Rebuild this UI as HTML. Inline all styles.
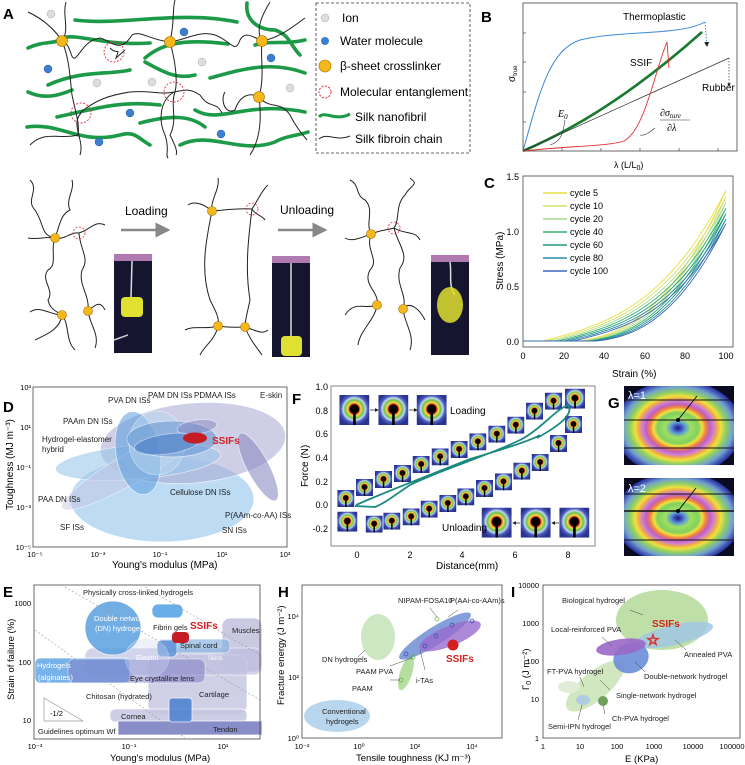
<!DOCTYPE html>
<html><head><meta charset="utf-8"><style>
html,body{margin:0;padding:0;background:#fff;}
svg{display:block;font-family:"Liberation Sans",sans-serif;}
</style></head><body>
<svg id="s" width="745" height="765" viewBox="0 0 745 765" xmlns="http://www.w3.org/2000/svg">
<defs>
<radialGradient id="thg" cx="50%" cy="47%" r="55%">
<stop offset="0" stop-color="#000"/><stop offset="0.25" stop-color="#200"/><stop offset="0.3" stop-color="#e02020"/><stop offset="0.4" stop-color="#f0e040"/><stop offset="0.55" stop-color="#70c050"/><stop offset="0.68" stop-color="#c0d8f0"/><stop offset="0.8" stop-color="#5060c0"/><stop offset="1" stop-color="#2a3490"/>
</radialGradient>
<symbol id="th" viewBox="0 0 30 30"><rect width="30" height="30" fill="url(#thg)"/><circle cx="15" cy="14" r="4.5" fill="#000"/><rect x="13.8" y="14" width="2.6" height="16" fill="#000"/></symbol>
<radialGradient id="gg" cx="50%" cy="50%" r="50%">
<stop offset="0" stop-color="#1a1a80"/><stop offset="0.06" stop-color="#4050c0"/><stop offset="0.12" stop-color="#60a0d0"/><stop offset="0.2" stop-color="#a0e060"/><stop offset="0.32" stop-color="#80d060"/><stop offset="0.38" stop-color="#f0e040"/><stop offset="0.44" stop-color="#f08040"/><stop offset="0.5" stop-color="#c060c0"/><stop offset="0.56" stop-color="#d080d0"/><stop offset="0.62" stop-color="#f0b040"/><stop offset="0.67" stop-color="#f0e040"/><stop offset="0.75" stop-color="#90d060"/><stop offset="0.86" stop-color="#70a0d0"/><stop offset="0.95" stop-color="#4050b0"/><stop offset="1" stop-color="#2030a0"/>
</radialGradient>
<marker id="ah" markerWidth="6" markerHeight="6" refX="5" refY="3" orient="auto"><path d="M0,0L6,3L0,6z" fill="#888"/></marker>
<marker id="ahk" markerWidth="5" markerHeight="5" refX="4" refY="2.5" orient="auto"><path d="M0,0L5,2.5L0,5z" fill="#222"/></marker>
</defs>

<text x="3" y="19" font-size="15" font-weight="bold">A</text>
<g fill="none" stroke="#1d9a48" stroke-width="3.6" stroke-linecap="round">
<path d="M75,20 C120,26 180,10 237,22"/>
<path d="M28,48 C45,40 55,45 62,38 C80,33 100,46 150,43"/>
<path d="M145,58 C160,45 180,38 228,44"/>
<path d="M247,3 C245,20 258,30 275,30 C290,35 290,45 300,55"/>
<path d="M255,45 C270,40 285,45 305,40"/>
<path d="M48,85 C80,70 110,75 130,70"/>
<path d="M145,62 C160,70 175,80 195,75"/>
<path d="M210,78 C240,70 270,60 305,73"/>
<path d="M28,92 C45,100 60,95 72,90"/>
<path d="M57,117 C90,110 120,100 160,105"/>
<path d="M140,123 C170,115 190,115 205,127"/>
<path d="M195,110 C220,125 245,100 305,112"/>
<path d="M27,127 C60,122 80,145 120,135 C135,130 140,140 150,145"/>
<path d="M180,145 C210,130 240,155 275,142 C285,136 300,135 308,132"/>
</g>
<g fill="none" stroke="#222" stroke-width="1">
<path d="M28,12 C45,20 55,30 62,41 C70,30 62,15 66,2"/>
<path d="M62,41 C72,45 70,60 75,58 C80,55 85,40 100,38 C110,40 120,55 132,35 C140,30 150,40 170,42"/>
<path d="M62,41 C70,60 70,80 72,95 C75,110 80,125 78,135 C60,140 45,130 30,145"/>
<path d="M170,42 C175,20 172,10 175,0"/>
<path d="M170,42 C175,60 178,80 175,92 C170,105 178,120 170,135 C175,145 178,152 176,155"/>
<path d="M170,42 C185,40 200,30 215,35 C230,40 235,55 240,40 C245,30 255,38 262,41"/>
<path d="M262,41 C255,30 262,15 270,2"/>
<path d="M262,41 C280,38 295,25 305,18"/>
<path d="M262,41 C260,60 265,75 259,97 C250,92 240,95 235,110 C225,115 220,100 225,92"/>
<path d="M259,97 C270,110 280,100 290,115 C295,125 300,132 307,140"/>
<path d="M259,97 C262,120 260,140 250,155"/>
<path d="M80,113 C95,100 110,95 130,92 C150,90 160,95 174,92 C185,90 190,88 200,95 C210,110 215,100 222,113"/>
<path d="M174,92 C160,100 158,120 165,135 C170,150 165,155 168,158"/>
<path d="M81,113 C70,125 85,140 80,155"/>
<path d="M110,48 C118,56 120,46 116,58 L125,50"/>
</g>
<g fill="#f5b719" stroke="#a07000" stroke-width="0.6">
<circle cx="62" cy="41" r="5.5"/><circle cx="170" cy="42" r="5.5"/><circle cx="262" cy="41" r="5.5"/><circle cx="259" cy="97" r="5.5"/>
</g>
<g fill="none" stroke="#e03040" stroke-width="0.9" stroke-dasharray="2,1.5">
<circle cx="114" cy="52" r="10"/><circle cx="81" cy="113" r="10"/><circle cx="174" cy="92" r="10"/>
</g>
<g fill="#3a7fd0" stroke="#1a4f90" stroke-width="0.4">
<circle cx="48" cy="69" r="4"/><circle cx="184" cy="32" r="4"/><circle cx="130" cy="113" r="4"/><circle cx="99" cy="142" r="4"/><circle cx="271" cy="58" r="4"/><circle cx="221" cy="134" r="4"/>
</g>
<g fill="#ddd" stroke="#aaa" stroke-width="0.5">
<circle cx="51" cy="14" r="4"/><circle cx="97" cy="83" r="4"/><circle cx="202" cy="62" r="4"/><circle cx="152" cy="82" r="4"/><circle cx="290" cy="88" r="4"/>
</g>
<rect x="316" y="3" width="154" height="150" fill="none" stroke="#333" stroke-width="0.8" stroke-dasharray="3,2"/>
<g font-size="12">
<circle cx="325" cy="18" r="4" fill="#ddd" stroke="#aaa" stroke-width="0.5"/><text x="342" y="22">Ion</text>
<circle cx="325" cy="41" r="4" fill="#3a7fd0"/><text x="340" y="45">Water molecule</text>
<circle cx="325" cy="66" r="6" fill="#f5b719" stroke="#a07000" stroke-width="0.6"/><text x="340" y="70">β-sheet crosslinker</text>
<circle cx="325" cy="92" r="6" fill="none" stroke="#e03040" stroke-dasharray="2,1.5"/><text x="340" y="96">Molecular entanglement</text>
<path d="M319,117 C325,110 335,122 350,114" stroke="#1d9a48" stroke-width="3" fill="none"/><text x="355" y="121">Silk nanofibril</text>
<path d="M319,139 C328,132 335,142 350,136" stroke="#222" stroke-width="1" fill="none"/><text x="355" y="143">Silk fibroin chain</text>
</g>

<g fill="none" stroke="#222" stroke-width="1">
<path d="M30,180 C40,190 25,200 35,210 C45,225 40,235 55,238 C60,225 60,215 70,210 C65,200 75,190 72,180"/>
<path d="M28,238 C40,240 45,236 55,238 C65,240 70,232 79,233 C90,230 95,220 105,225"/>
<path d="M55,238 C50,250 58,265 48,270 C40,280 55,290 48,300 C50,310 58,312 62,315"/>
<path d="M79,233 C80,250 90,258 82,270 C78,285 90,295 88,311"/>
<path d="M62,315 C50,315 40,305 30,312 M62,315 C60,330 45,335 35,340 M62,315 C70,325 65,340 75,350"/>
<path d="M88,311 C95,305 100,300 105,310 M88,311 C90,325 100,335 95,348"/>
<path d="M212,211 C205,205 195,200 188,205 M212,211 C210,200 220,190 218,178"/>
<path d="M212,211 C225,210 240,208 252,209 C258,200 262,190 268,185"/>
<path d="M252,209 C255,215 262,215 265,220"/>
<path d="M212,211 C206,240 200,270 210,300 C215,310 220,318 218,326"/>
<path d="M252,209 C248,240 245,270 250,300 C248,310 245,320 245,327"/>
<path d="M218,326 C230,328 238,327 245,327 M218,326 C205,330 195,325 185,330 M218,326 C215,340 205,345 200,355 M245,327 C255,330 262,335 268,330 M245,327 C250,340 255,345 262,355"/>
<path d="M350,180 C360,185 355,195 365,200 C375,210 365,222 371,234 M371,234 C360,238 352,242 345,238"/>
<path d="M371,234 C380,230 388,230 394,228 C400,220 395,205 405,195 C410,185 420,185 410,178"/>
<path d="M394,228 C405,235 415,230 420,240"/>
<path d="M371,234 C365,250 380,260 370,270 C362,285 380,292 377,305"/>
<path d="M394,228 C398,245 410,255 400,268 C395,285 408,295 403,309"/>
<path d="M377,305 C365,310 355,300 345,315 M377,305 C375,320 360,330 358,345 M403,309 C410,300 420,310 425,320 M403,309 C405,325 415,335 410,350"/>
</g>
<g fill="#f5b719" stroke="#a07000" stroke-width="0.6">
<circle cx="55" cy="238" r="4.5"/><circle cx="62" cy="315" r="4.5"/><circle cx="88" cy="311" r="4.5"/>
<circle cx="212" cy="211" r="4.5"/><circle cx="218" cy="326" r="4.5"/><circle cx="245" cy="327" r="4.5"/>
<circle cx="371" cy="234" r="4.5"/><circle cx="377" cy="305" r="4.5"/><circle cx="403" cy="309" r="4.5"/>
</g>
<g fill="none" stroke="#e03040" stroke-width="0.8" stroke-dasharray="2,1.5">
<circle cx="79" cy="233" r="6"/><circle cx="252" cy="209" r="6"/><circle cx="394" cy="228" r="6"/>
</g>
<line x1="121" y1="230" x2="168" y2="230" stroke="#888" stroke-width="2.5" marker-end="url(#ah)"/>
<line x1="278" y1="230" x2="325" y2="230" stroke="#888" stroke-width="2.5" marker-end="url(#ah)"/>
<text x="125" y="215" font-size="12">Loading</text>
<text x="280" y="214" font-size="12">Unloading</text>
<rect x="114" y="254" width="38" height="99" fill="#151530"/><rect x="114" y="254" width="38" height="7" fill="#b07ab0"/>
<line x1="132" y1="261" x2="131" y2="298" stroke="#ddd" stroke-width="1.5"/><rect x="121" y="297" width="22" height="20" rx="4" fill="#e0e030"/>
<line x1="114" y1="340" x2="128" y2="335" stroke="#ccc" stroke-width="1.5"/>
<rect x="272" y="256" width="38" height="101" fill="#151530"/><rect x="272" y="256" width="38" height="7" fill="#b07ab0"/>
<line x1="291" y1="263" x2="291" y2="338" stroke="#ddd" stroke-width="1.5"/><rect x="281" y="336" width="21" height="20" rx="4" fill="#e0e030"/>
<rect x="431" y="255" width="38" height="100" fill="#151530"/><rect x="431" y="255" width="38" height="7" fill="#b07ab0"/>
<path d="M450,262 C452,275 448,285 455,295" stroke="#ddd" stroke-width="1.5" fill="none"/><ellipse cx="450" cy="305" rx="13" ry="18" fill="#e0e030" opacity="0.85"/>

<text x="481" y="22" font-size="15" font-weight="bold">B</text>
<rect x="523" y="3" width="214" height="148" fill="none" stroke="#444" stroke-width="0.8"/>
<g stroke="#444" stroke-width="0.7">
<line x1="562" y1="151" x2="562" y2="148"/><line x1="601" y1="151" x2="601" y2="148"/><line x1="640" y1="151" x2="640" y2="148"/><line x1="679" y1="151" x2="679" y2="148"/><line x1="718" y1="151" x2="718" y2="148"/>
<line x1="523" y1="122" x2="526" y2="122"/><line x1="523" y1="92" x2="526" y2="92"/><line x1="523" y1="62" x2="526" y2="62"/><line x1="523" y1="33" x2="526" y2="33"/>
</g>
<path d="M523,151 C540,90 550,50 580,40 C620,30 680,36 705,22" fill="none" stroke="#3a8ad8" stroke-width="1"/>
<path d="M705,22 L707,46" stroke="#3a8ad8" stroke-width="1" stroke-dasharray="1.5,1.5" marker-end="url(#ahk)"/>
<path d="M523,151 C560,135 620,105 702,32" fill="none" stroke="#1a7a30" stroke-width="2.6"/>
<path d="M523,151 L729,58" fill="none" stroke="#333" stroke-width="0.7"/>
<path d="M729,58 L729,86" stroke="#333" stroke-width="0.7" stroke-dasharray="1.5,1.5" marker-end="url(#ahk)"/>
<path d="M523,151 C570,146 610,146 624,141 C645,130 655,70 667,42 L669,68" fill="none" stroke="#e03030" stroke-width="0.9"/>
<text x="623" y="20" font-size="10">Thermoplastic</text>
<text x="630" y="66" font-size="10">SSIF</text>
<text x="702" y="91" font-size="10">Rubber</text>
<text x="558" y="117" font-size="10" font-style="italic" font-family="Liberation Serif">E<tspan font-size="7" dy="2">0</tspan></text>
<path d="M565,120 C563,135 560,142 550,145" fill="none" stroke="#333" stroke-width="0.6"/>
<text x="660" y="116" font-size="10" font-style="italic" font-family="Liberation Serif">∂σ<tspan font-size="7" dy="2">ture</tspan></text>
<line x1="660" y1="120" x2="690" y2="120" stroke="#333" stroke-width="0.6"/>
<text x="667" y="131" font-size="10" font-style="italic" font-family="Liberation Serif">∂λ</text>
<path d="M655,128 C650,132 645,136 640,135" fill="none" stroke="#333" stroke-width="0.6"/>
<text x="614" y="168" font-size="9">λ (L/L<tspan font-size="7" dy="2">0</tspan><tspan dy="-2">)</tspan></text>
<text transform="translate(515,82) rotate(-90)" font-size="10">σ<tspan font-size="6" dy="2">true</tspan></text>

<text x="484" y="188" font-size="15" font-weight="bold">C</text>
<rect x="523" y="176" width="210" height="171" fill="none" stroke="#444" stroke-width="0.8"/>
<g id="cc" fill="none" stroke-width="0.9"></g>
<g font-size="9" text-anchor="end">
<text x="519" y="345">0.0</text><text x="519" y="290">0.5</text><text x="519" y="235">1.0</text><text x="519" y="180">1.5</text>
</g>
<g font-size="9" text-anchor="middle">
<text x="523" y="359">0</text><text x="564" y="359">20</text><text x="604" y="359">40</text><text x="645" y="359">60</text><text x="685" y="359">80</text><text x="726" y="359">100</text>
</g>
<text x="612" y="377" font-size="10">Strain (%)</text>
<text transform="translate(503,290) rotate(-90)" font-size="10">Stress (MPa)</text>
<g id="cleg" font-size="9"></g>

<text x="3" y="412" font-size="15" font-weight="bold">D</text>
<g stroke="#fff" stroke-width="0.8">
<ellipse cx="162" cy="499" rx="92" ry="43" fill="#a8d0f0" opacity="0.75"/>
<ellipse cx="193" cy="443" rx="93" ry="40" fill="#aeaed6" opacity="0.6" transform="rotate(-5 193 443)"/>
<ellipse cx="138" cy="462" rx="83" ry="17" fill="#9cc8ec" opacity="0.6" transform="rotate(-5 138 462)"/>
<ellipse cx="133" cy="467" rx="82" ry="15" fill="#c8c8e4" opacity="0.5" transform="rotate(-30 133 467)"/>
<ellipse cx="138" cy="453" rx="22" ry="42" fill="#5a9ede" opacity="0.55" transform="rotate(-10 138 453)"/>
<ellipse cx="157" cy="443" rx="28" ry="32" fill="#b8d8f0" opacity="0.5"/>
<ellipse cx="172" cy="439" rx="45" ry="18" fill="#5a8ed0" opacity="0.5"/>
<ellipse cx="197" cy="427" rx="20" ry="7" fill="#8888c0" opacity="0.5" transform="rotate(-8 197 427)"/>
<ellipse cx="167" cy="444" rx="33" ry="10" fill="#3a70c0" opacity="0.45" transform="rotate(-8 167 444)"/>
<ellipse cx="258" cy="467" rx="11" ry="38" fill="#8c8cc4" opacity="0.6" transform="rotate(-28 258 467)"/>
</g>
<ellipse cx="195" cy="438" rx="12" ry="5.5" fill="#c41e24"/>
<rect x="33" y="387" width="254" height="160" fill="none" stroke="#444" stroke-width="0.8"/>
<g font-size="8" fill="#222">
<text x="212" y="444" fill="#d42020" font-size="10" font-weight="bold">SSIFs</text>
<text x="108" y="403">PVA DN ISs</text><text x="148" y="398">PAM DN ISs</text><text x="194" y="398">PDMAA ISs</text><text x="260" y="398">E-skin</text>
<text x="63" y="424">PAAm DN ISs</text><text x="42" y="442">Hydrogel-elastomer</text><text x="42" y="452">hybrid</text>
<text x="38" y="502">PAA DN ISs</text><text x="170" y="495">Cellulose DN ISs</text><text x="60" y="530">SF ISs</text>
<text x="225" y="518">P(AAm-co-AA) ISs</text><text x="222" y="533">SN ISs</text>
</g>
<g font-size="7.5" text-anchor="middle">
<text x="35" y="557">10⁻⁵</text><text x="98" y="557">10⁻³</text><text x="160" y="557">10⁻¹</text><text x="222" y="557">10¹</text><text x="285" y="557">10³</text>
</g>
<g font-size="7.5" text-anchor="end">
<text x="31" y="390">10³</text><text x="31" y="430">10¹</text><text x="31" y="470">10⁻¹</text><text x="31" y="510">10⁻³</text><text x="31" y="550">10⁻⁵</text>
</g>
<text x="112" y="568" font-size="10">Young's modulus (MPa)</text>
<text transform="translate(13,510) rotate(-90)" font-size="10">Toughness (MJ m⁻³)</text>

<text x="292" y="404" font-size="15" font-weight="bold">F</text>
<rect x="331" y="386" width="264" height="160" fill="none" stroke="#666" stroke-width="0.8"/>
<g id="fth"></g>
<path d="M356,505 C390,490 430,475 470,459 C500,450 530,441 540,435 L537,438 C555,428 575,415 568,405 C555,410 540,430 520,440 C490,455 440,470 410,485 C395,495 385,503 375,507 L355,506" fill="none" stroke="#1a8a80" stroke-width="1.8"/>
<text x="450" y="414" font-size="10">Loading</text>
<text x="442" y="531" font-size="10">Unloading</text>
<line x1="370" y1="410" x2="378" y2="410" stroke="#333" stroke-width="0.8" marker-end="url(#ahk)"/>
<line x1="409" y1="410" x2="417" y2="410" stroke="#333" stroke-width="0.8" marker-end="url(#ahk)"/>
<line x1="520" y1="523" x2="513" y2="523" stroke="#333" stroke-width="0.8" marker-end="url(#ahk)"/>
<line x1="559" y1="523" x2="552" y2="523" stroke="#333" stroke-width="0.8" marker-end="url(#ahk)"/>
<g font-size="9" text-anchor="end">
<text x="328" y="390">1.0</text><text x="328" y="414">0.8</text><text x="328" y="437">0.6</text><text x="328" y="461">0.4</text><text x="328" y="485">0.2</text><text x="328" y="508">0.0</text><text x="328" y="532">-0.2</text>
</g>
<g font-size="9" text-anchor="middle">
<text x="357" y="558">0</text><text x="410" y="558">2</text><text x="462" y="558">4</text><text x="515" y="558">6</text><text x="568" y="558">8</text>
</g>
<text x="436" y="569" font-size="10">Distance(mm)</text>
<text transform="translate(308,487) rotate(-90)" font-size="10">Force (N)</text>

<text x="608" y="408" font-size="15" font-weight="bold">G</text>
<clipPath id="cg1"><rect x="624" y="386" width="110" height="79"/></clipPath>
<clipPath id="cg2"><rect x="624" y="478" width="110" height="78"/></clipPath>
<rect x="624" y="386" width="110" height="79" fill="#0a0a20"/>
<g clip-path="url(#cg1)"><ellipse cx="678" cy="428" rx="64" ry="48" fill="url(#gg)"/></g>
<line x1="624" y1="400" x2="734" y2="400" stroke="#111" stroke-width="1"/>
<line x1="624" y1="420" x2="734" y2="420" stroke="#111" stroke-width="1"/>
<line x1="624" y1="448" x2="734" y2="448" stroke="#111" stroke-width="1"/>
<line x1="678" y1="420" x2="697" y2="396" stroke="#111" stroke-width="1"/><circle cx="678" cy="420" r="2" fill="#000"/>
<text x="628" y="399" font-size="11" fill="#fff">λ=1</text>
<rect x="624" y="478" width="110" height="78" fill="#0a0a20"/>
<g clip-path="url(#cg2)"><ellipse cx="678" cy="518" rx="64" ry="46" fill="url(#gg)"/></g>
<line x1="624" y1="494" x2="734" y2="494" stroke="#111" stroke-width="1"/>
<line x1="624" y1="511" x2="734" y2="511" stroke="#111" stroke-width="1.5"/>
<line x1="624" y1="540" x2="734" y2="540" stroke="#111" stroke-width="1"/>
<line x1="678" y1="511" x2="696" y2="488" stroke="#111" stroke-width="1"/><circle cx="678" cy="511" r="2" fill="#000"/>
<text x="628" y="492" font-size="11" fill="#fff">λ=2</text>

<text x="3" y="597" font-size="15" font-weight="bold">E</text>
<g stroke="#fff" stroke-width="0.7">
<rect x="222" y="618" width="40" height="54" rx="8" fill="#bcbcdc" opacity="0.8"/>
<rect x="148" y="655" width="99" height="60" rx="10" fill="#c4c4e0" opacity="0.8"/>
<rect x="85" y="648" width="177" height="27" rx="8" fill="#c0c0e0" opacity="0.7"/>
<rect x="110" y="709" width="137" height="13" rx="5" fill="#c8c8e4" opacity="0.9"/>
<rect x="118" y="721" width="144" height="14" fill="#8a8ec8"/>
<ellipse cx="113" cy="628" rx="28" ry="27" fill="#5aa0e0" opacity="0.85"/>
<rect x="152" y="604" width="31" height="14" rx="6" fill="#6aaee8"/>
<rect x="157" y="639" width="73" height="14" rx="5" fill="#8ab4e0" opacity="0.7"/>
<rect x="157" y="640" width="20" height="17" rx="5" fill="#5a90d8" opacity="0.8"/>
<rect x="35" y="658" width="95" height="25" rx="5" fill="#6aaae8" opacity="0.9"/>
<rect x="68" y="659" width="137" height="24" rx="6" fill="#8080c8" opacity="0.55"/>
<ellipse cx="147" cy="658" rx="22" ry="20" fill="#d0d8f0" opacity="0.35"/>
<rect x="169" y="698" width="23" height="24" rx="3" fill="#4a80d0" opacity="0.85"/>
</g>
<rect x="172" y="632" width="17" height="11" rx="4" fill="#c41e24"/>
<g stroke="#999" stroke-width="0.6" stroke-dasharray="2,2" fill="none">
<line x1="65" y1="587" x2="260" y2="700"/><line x1="35" y1="630" x2="185" y2="738"/><line x1="145" y1="587" x2="260" y2="655"/>
</g>
<path d="M44,698 L44,721 L83,721 Z" fill="none" stroke="#999" stroke-width="0.7"/>
<text x="50" y="716" font-size="7.5">-1/2</text>
<rect x="34" y="585" width="226" height="154" fill="none" stroke="#444" stroke-width="0.8"/>
<g font-size="7.5" fill="#222">
<text x="83" y="595">Physically cross-linked hydrogels</text>
<text x="94" y="621" fill="#fff">Double network</text><text x="95" y="631" fill="#fff">(DN) hydrogels</text>
<text x="153" y="630">Fibrin gels</text><text x="190" y="629" fill="#d42020" font-size="10" font-weight="bold">SSIFs</text>
<text x="232" y="633">Muscles</text><text x="180" y="648">Spinal cord</text>
<text x="136" y="660" fill="#fff">Elastin</text><text x="208" y="660" fill="#fff" font-size="6">Skins</text>
<text x="37" y="668" fill="#fff">Hydrogels</text><text x="38" y="680" fill="#fff">(alginates)</text>
<text x="130" y="681">Eye crystalline lens</text>
<text x="86" y="699">Chitosan (hydrated)</text><text x="199" y="697">Cartilage</text>
<text x="121" y="719">Cornea</text><text x="213" y="732">Tendon</text>
<text x="38" y="734">Guidelines optimum Wf</text>
</g>
<g font-size="7.5" text-anchor="end">
<text x="31" y="606">1000</text><text x="31" y="665">100</text><text x="31" y="723">10</text>
</g>
<g font-size="7.5" text-anchor="middle">
<text x="35" y="749">10⁻³</text><text x="129" y="749">10⁻¹</text><text x="223" y="749">10¹</text>
</g>
<text x="110" y="761" font-size="9.5">Young's modulus (MPa)</text>
<text transform="translate(14,700) rotate(-90)" font-size="9.5">Strain of failure (%)</text>

<text x="278" y="597" font-size="15" font-weight="bold">H</text>
<ellipse cx="378" cy="637" rx="17" ry="23" fill="#c8e4bc" opacity="0.9"/>
<ellipse cx="337" cy="716" rx="33" ry="16" fill="#b8d6ee"/>
<ellipse cx="406" cy="673" rx="6" ry="18" fill="#a8d890" opacity="0.85" transform="rotate(18 406 673)"/>
<ellipse cx="435" cy="636" rx="42" ry="9" fill="#6e8ed4" opacity="0.85" transform="rotate(-32 435 636)"/>
<ellipse cx="450" cy="636" rx="33" ry="10" fill="#9a6ad0" opacity="0.8" transform="rotate(-22 450 636)"/>
<circle cx="453" cy="645" r="5.5" fill="#d42020"/>
<g fill="none" stroke="#3050a0" stroke-width="0.7">
<circle cx="406" cy="654" r="2"/><circle cx="436" cy="636" r="2"/><circle cx="452" cy="625" r="2"/><circle cx="472" cy="621" r="2"/><circle cx="425" cy="646" r="2"/>
</g>
<circle cx="437" cy="619" r="2" fill="none" stroke="#5ab040" stroke-width="0.7"/><circle cx="413" cy="657" r="2" fill="none" stroke="#5ab040" stroke-width="0.7"/><circle cx="401" cy="680" r="2" fill="none" stroke="#5ab040" stroke-width="0.7"/>
<g stroke="#444" stroke-width="0.5">
<line x1="365" y1="650" x2="358" y2="657"/><line x1="430" y1="608" x2="437" y2="617"/><line x1="458" y1="610" x2="448" y2="617"/><line x1="390" y1="666" x2="412" y2="658"/><line x1="390" y1="680" x2="400" y2="680"/><line x1="420" y1="650" x2="425" y2="670"/>
</g>
<rect x="302" y="585" width="200" height="153" fill="none" stroke="#444" stroke-width="0.8"/>
<g font-size="7.5" fill="#222">
<text x="398" y="603">NIPAM-FOSA10</text><text x="450" y="603">P(AAi-co-AAm)s</text>
<text x="322" y="662">DN hydrogels</text><text x="356" y="674">PAAM PVA</text><text x="352" y="691">PAAM</text><text x="416" y="683">i-TAs</text>
<text x="446" y="662" fill="#d42020" font-size="10" font-weight="bold">SSIFs</text>
<text x="322" y="714">Conventional</text><text x="326" y="724">hydrogels</text>
</g>
<g font-size="7.5" text-anchor="end"><text x="299" y="619">10⁴</text><text x="299" y="680">10²</text><text x="299" y="741">10⁰</text></g>
<g font-size="7.5" text-anchor="middle"><text x="302" y="749">10⁻²</text><text x="359" y="749">10⁰</text><text x="415" y="749">10²</text><text x="472" y="749">10⁴</text></g>
<text x="356" y="761" font-size="9.5">Tensile toughness (KJ m⁻³)</text>
<text transform="translate(284,705) rotate(-90)" font-size="9.5">Fracture energy (J m⁻²)</text>

<text x="511" y="597" font-size="15" font-weight="bold">I</text>
<ellipse cx="662" cy="620" rx="46" ry="30" fill="#b8dca0" opacity="0.9"/>
<ellipse cx="595" cy="686" rx="36" ry="14" fill="#cce4b8" opacity="0.9" transform="rotate(-40 595 686)"/>
<ellipse cx="569" cy="687" rx="11" ry="6" fill="#e0eed8"/>
<ellipse cx="583" cy="700" rx="7" ry="5" fill="#b0cce0"/>
<circle cx="603" cy="701" r="5" fill="#70a060"/>
<ellipse cx="674" cy="635" rx="40" ry="10" fill="#a0c8e4" opacity="0.85" transform="rotate(-13 674 635)"/>
<ellipse cx="631" cy="658" rx="18" ry="15" fill="#6a8ed8" opacity="0.9" transform="rotate(-20 631 658)"/>
<ellipse cx="621" cy="647" rx="25" ry="8" fill="#9a68c8" opacity="0.9" transform="rotate(-8 621 647)"/>
<text x="653" y="645" font-size="15" fill="#fff" stroke="#e03030" stroke-width="1" text-anchor="middle">☆</text>
<rect x="543" y="585" width="197" height="153" fill="none" stroke="#444" stroke-width="0.8"/>
<g font-size="7.5" fill="#222">
<text x="562" y="603">Biological hydrogel</text><text x="652" y="627" fill="#d42020" font-size="10" font-weight="bold">SSIFs</text>
<text x="551" y="632">Local-reinforced PVA</text><text x="684" y="657">Annealed PVA</text>
<text x="547" y="674">FT-PVA hydrogel</text><text x="644" y="679">Double-network hydrogel</text>
<text x="616" y="698">Single-network hydrogel</text><text x="612" y="721">Ch-PVA hydrogel</text><text x="548" y="729">Semi-IPN hydrogel</text>
</g>
<g stroke="#444" stroke-width="0.5"><line x1="630" y1="610" x2="643" y2="615"/><line x1="686" y1="650" x2="675" y2="640"/><line x1="602" y1="637" x2="612" y2="646"/><line x1="645" y1="672" x2="635" y2="662"/><line x1="610" y1="690" x2="600" y2="680"/><line x1="580" y1="677" x2="584" y2="687"/><line x1="605" y1="714" x2="603" y2="705"/><line x1="578" y1="720" x2="582" y2="705"/></g>
<g font-size="7.5" text-anchor="end"><text x="539" y="588">10000</text><text x="539" y="626">1000</text><text x="539" y="664">100</text><text x="539" y="702">10</text><text x="539" y="741">1</text></g>
<g font-size="7.5" text-anchor="middle"><text x="543" y="749">1</text><text x="580" y="749">10</text><text x="617" y="749">100</text><text x="654" y="749">1000</text><text x="693" y="749">10000</text><text x="732" y="749">100000</text></g>
<text x="625" y="762" font-size="9.5">E (KPa)</text>
<text transform="translate(529,690) rotate(-90)" font-size="9.5">Γ<tspan font-size="7" dy="2">0</tspan><tspan dy="-2"> (J m⁻²)</tspan></text>
</svg>
<script>
(function(){
var NS="http://www.w3.org/2000/svg";
function el(t,a,p){var e=document.createElementNS(NS,t);for(var k in a)e.setAttribute(k,a[k]);p.appendChild(e);return e;}
var cols=["#e8e040","#cfe070","#a8d890","#30b070","#1f9a80","#2a88a8","#3a68b8"];
var tops=[1.36,1.3,1.25,1.2,1.15,1.1,1.06];
var names=["cycle 5","cycle 10","cycle 20","cycle 40","cycle 60","cycle 80","cycle 100"];
var g=document.getElementById("cc"),lg=document.getElementById("cleg");
for(var i=0;i<7;i++){
 var S=tops[i],d="",st=10+i*2.5,st2=28+i*1.5;
 for(var s=0;s<=100;s+=2){var t=s<st?0:(s-st)/(100-st);var v=S*(0.32*t+0.68*Math.pow(t,3))+0.01;
  d+=(s==0?"M":"L")+(523+s*2.03).toFixed(1)+","+(342-v*110.7).toFixed(1);}
 for(var s=100;s>=0;s-=2){var t=s<st2?0:(s-st2)/(100-st2);var v=S*(0.15*t+0.85*Math.pow(t,2.4))+0.01;
  d+="L"+(523+s*2.03).toFixed(1)+","+(342-v*110.7).toFixed(1);}
 el("path",{d:d,stroke:cols[i]},g);
 var y=193+i*13;
 el("line",{x1:543,y1:y,x2:567,y2:y,stroke:cols[i],"stroke-width":1.5},lg);
 var tx=el("text",{x:570,y:y+3},lg);tx.textContent=names[i];
}
var f=document.getElementById("fth");
var sm=[[112,330],[168,297],[225,273],[282,255],[338,228],[395,205],[452,183],[508,160],[565,137],[622,110],[678,68],[735,38],[795,108],[750,165],[695,222],[640,248],[585,280],[528,300],[472,325],[418,345],[362,362],[308,385],[250,398],[197,407]];
sm.forEach(function(p){el("use",{href:"#th",x:300+p[0]/3,y:380+p[1]/3,width:17,height:17},f);});
[[795,26],[112,395],[118,45],[235,45],[350,45],[545,383],[662,383],[778,383]].forEach(function(p,j){var w=j<2?20:30;el("use",{href:"#th",x:300+p[0]/3,y:380+p[1]/3,width:w,height:w},f);});
})();
</script>
</body></html>
